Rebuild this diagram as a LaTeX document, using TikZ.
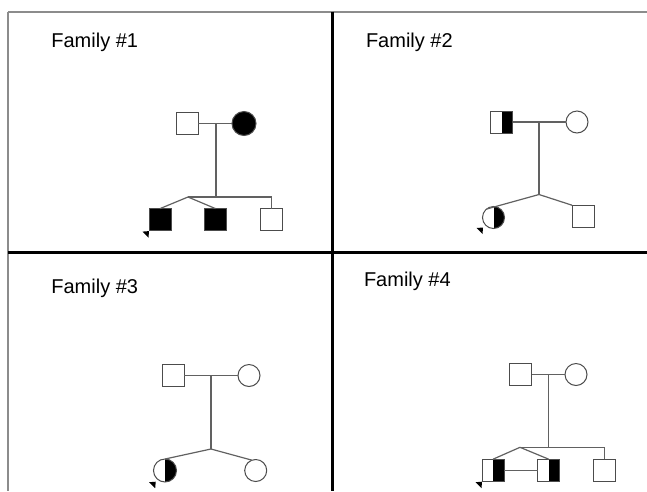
\documentclass[tikz,border=0pt]{standalone}
\usepackage{fontspec}
\setmainfont{Liberation Sans}
\begin{document}
\begin{tikzpicture}[x=1pt,y=-1pt,
  every node/.style={inner sep=0pt,outer sep=0pt},
  pedline/.style={draw=black!62,line width=1.2pt},
  male/.style={rectangle,draw=black!70,line width=1pt,fill=white,minimum size=22pt},
  female/.style={circle,draw=black!70,line width=1pt,fill=white,minimum size=22pt},
  affected/.style={fill=black},
  righthalf/.style={path picture={\fill[black] (path picture bounding box.north) rectangle (path picture bounding box.south east);}},
  label/.style={anchor=base west,font=\fontsize{20}{24}\selectfont},
  framegray/.style={draw=black!45,line width=2pt},
  frameblack/.style={draw=black,line width=3pt},
  proband/.style={fill=black}
]
\useasboundingbox (0,0) rectangle (647,491);
% frame
\coordinate (tl) at (8.3,11.7);
\coordinate (tr) at (647,11.7);
\coordinate (bl) at (8.3,491);
\coordinate (vt) at (332.7,11.7);
\coordinate (vb) at (332.7,491);
\coordinate (hl) at (8.3,252.3);
\coordinate (hr) at (647,252.3);
\draw[framegray] (tl) -- (tr);
\draw[framegray] (tl) -- (bl);
\draw[frameblack] (vt) -- (vb);
\draw[frameblack] (hl) -- (hr);
% labels
\node[label] (l1) at (51.4,47) {Family \#1};
\node[label] (l2) at (366,47.3) {Family \#2};
\node[label] (l3) at (51.4,293) {Family \#3};
\node[label] (l4) at (364,286) {Family \#4};

% ---------- Family 1
\coordinate (f1c) at (216,123.5);
\coordinate (f1s) at (216,197);
\coordinate (f1t) at (188,197);
\coordinate (f1r) at (271.5,197);
\draw[pedline] (f1c) -- (f1s);
\draw[pedline] (f1t) -- (f1r);
\node[male] (f1m) at (187,123.5) {};
\node[female,affected,minimum size=24pt] (f1f) at (244,123.5) {};
\draw[pedline] (f1m.east) -- (f1f.west);
\node[male,affected] (f1a) at (160,219.6) {};
\node[male,affected] (f1b) at (215.5,219.6) {};
\node[male] (f1d) at (271.5,219.6) {};
\draw[pedline] (f1t) -- (f1a.north);
\draw[pedline] (f1t) -- (f1b.north);
\draw[pedline] (f1r) -- (f1d.north);
\fill[proband] ([shift={(0,0.5)}]f1a.south west) -- ++(-6.5,0.5) -- ++(6,6) -- cycle;

% ---------- Family 2
\coordinate (f2c) at (539,122);
\coordinate (f2s) at (539,194.5);
\draw[pedline] (f2c) -- (f2s);
\node[male,righthalf] (f2m) at (501.5,122) {};
\node[female] (f2f) at (577,122) {};
\draw[pedline] (f2m.east) -- (f2f.west);
\node[female,righthalf] (f2a) at (493.5,217.5) {};
\node[male] (f2b) at (583,216.2) {};
\draw[pedline] (f2s) -- (f2a.130);
\draw[pedline] (f2s) -- (f2b.north west);
\fill[proband] (483,227.5) -- ++(-6.5,0.5) -- ++(6,6) -- cycle;

% ---------- Family 3
\coordinate (f3c) at (211,375.5);
\coordinate (f3s) at (211,449);
\draw[pedline] (f3c) -- (f3s);
\node[male] (f3m) at (173.3,375.5) {};
\node[female] (f3f) at (249,375.5) {};
\draw[pedline] (f3m.east) -- (f3f.west);
\node[female,righthalf,minimum size=23pt] (f3a) at (165,470.5) {};
\node[female] (f3b) at (255.7,470.5) {};
\draw[pedline] (f3s) -- (f3a.north);
\draw[pedline] (f3s) -- (f3b.110);
\fill[proband] (155.7,481.7) -- ++(-6.5,0.5) -- ++(6,6) -- cycle;

% ---------- Family 4
\coordinate (f4c) at (548.3,374.5);
\coordinate (f4s) at (548.3,447.3);
\coordinate (f4t) at (520,447.3);
\coordinate (f4r) at (604.5,447.3);
\draw[pedline] (f4c) -- (f4s);
\draw[pedline] (f4t) -- (f4r);
\node[male] (f4m) at (520.5,374.5) {};
\node[female] (f4f) at (576,374.5) {};
\draw[pedline] (f4m.east) -- (f4f.west);
\node[male,righthalf] (f4a) at (493,470.2) {};
\node[male,righthalf] (f4b) at (548.7,470.2) {};
\node[male] (f4d) at (604.5,470.2) {};
\draw[pedline] (f4t) -- (f4a.north);
\draw[pedline] (f4t) -- (f4b.north);
\draw[pedline] (f4r) -- (f4d.north);
\draw[pedline] (f4a.east) -- (f4b.west);
\fill[proband] ([shift={(0,0.5)}]f4a.south west) -- ++(-6.5,0.5) -- ++(6,6) -- cycle;
\end{tikzpicture}
\end{document}
